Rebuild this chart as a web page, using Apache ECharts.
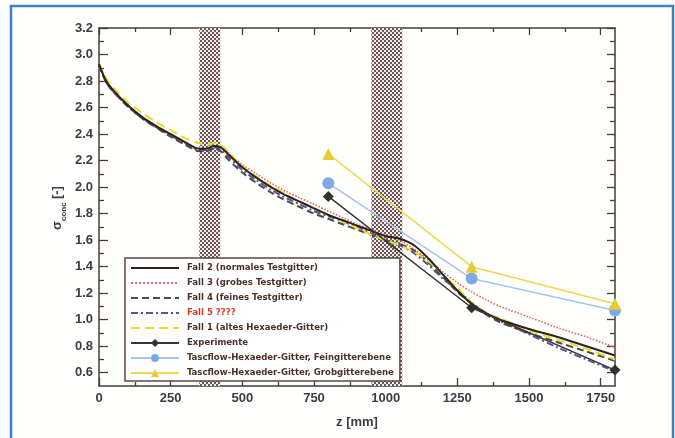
<!DOCTYPE html>
<html>
<head>
<meta charset="utf-8">
<script src="https://cdn.jsdelivr.net/npm/echarts@6/dist/echarts.min.js"></script>
<style>
  html, body { margin: 0; padding: 0; background: #fff; }
  #chart { width: 675px; height: 438px; }
</style>
</head>
<body>
<div id="chart"></div>
<script>
// z positions of the CFD curves [mm]
const zCurve = [0, 25, 50, 100, 150, 200, 250, 300, 350, 375, 400, 425, 450, 500, 550, 600, 650, 700, 750,
  800, 850, 900, 950, 1000, 1050, 1100, 1150, 1200, 1250, 1300, 1350, 1400, 1500, 1600, 1700, 1800];

// Fall 2 (normales Testgitter)
const fall2 = [2.93, 2.80, 2.73, 2.62, 2.53, 2.46, 2.40, 2.34, 2.29, 2.29, 2.31, 2.30, 2.25, 2.15, 2.07, 2.00, 1.94, 1.89, 1.84,
  1.79, 1.75, 1.71, 1.67, 1.63, 1.61, 1.56, 1.46, 1.34, 1.22, 1.12, 1.05, 1.00, 0.93, 0.87, 0.80, 0.73];
// Fall 3 (grobes Testgitter)
const fall3 = [2.92, 2.79, 2.72, 2.61, 2.52, 2.45, 2.39, 2.33, 2.28, 2.28, 2.30, 2.30, 2.26, 2.17, 2.10, 2.03, 1.97, 1.92, 1.87,
  1.82, 1.77, 1.72, 1.68, 1.64, 1.60, 1.53, 1.45, 1.36, 1.28, 1.21, 1.15, 1.10, 1.02, 0.94, 0.87, 0.79];
// Fall 4 (feines Testgitter)
const fall4 = [2.92, 2.79, 2.72, 2.61, 2.52, 2.45, 2.38, 2.32, 2.27, 2.27, 2.29, 2.27, 2.21, 2.11, 2.03, 1.96, 1.90, 1.85, 1.80,
  1.76, 1.72, 1.68, 1.64, 1.60, 1.57, 1.52, 1.43, 1.32, 1.21, 1.12, 1.04, 0.98, 0.90, 0.83, 0.76, 0.69];
// Fall 5
const fall5 = [2.92, 2.79, 2.72, 2.61, 2.52, 2.45, 2.39, 2.33, 2.28, 2.28, 2.30, 2.28, 2.23, 2.13, 2.05, 1.98, 1.92, 1.87, 1.82,
  1.78, 1.74, 1.70, 1.65, 1.60, 1.56, 1.50, 1.41, 1.31, 1.22, 1.13, 1.05, 0.99, 0.89, 0.79, 0.70, 0.61];
// Fall 1 (altes Hexaeder-Gitter)
const fall1 = [2.93, 2.82, 2.75, 2.64, 2.56, 2.49, 2.43, 2.37, 2.33, 2.32, 2.33, 2.32, 2.27, 2.16, 2.08, 2.01, 1.95, 1.89, 1.84,
  1.79, 1.74, 1.69, 1.64, 1.60, 1.56, 1.51, 1.44, 1.34, 1.24, 1.13, 1.05, 1.01, 0.92, 0.85, 0.78, 0.70];

// measurement planes
const zPlanes = [800, 1300, 1800];
const experimente = [1.93, 1.09, 0.62];
const feingitter = [2.03, 1.31, 1.07];
const grobgitter = [2.25, 1.40, 1.12];

// hatched regions [from, to] in mm
const bands = [[350, 423], [950, 1058]];

// tick labels / ticks
const xLabels = [0, 250, 500, 750, 1000, 1250, 1500, 1750];
const xMinor = [125, 375, 625, 875, 1125, 1375, 1625];
const yLabels = [0.6, 0.8, 1.0, 1.2, 1.4, 1.6, 1.8, 2.0, 2.2, 2.4, 2.6, 2.8, 3.0, 3.2];
const yMinor = [0.7, 0.9, 1.1, 1.3, 1.5, 1.7, 1.9, 2.1, 2.3, 2.5, 2.7, 2.9, 3.1];

const names = [
  'Fall 2 (normales Testgitter)',
  'Fall 3 (grobes Testgitter)',
  'Fall 4 (feines Testgitter)',
  'Fall 5 ????',
  'Fall 1 (altes Hexaeder-Gitter)',
  'Experimente',
  'Tascflow-Hexaeder-Gitter, Feingitterebene',
  'Tascflow-Hexaeder-Gitter, Grobgitterebene'
];

function zip(xs, ys) {
  return xs.map(function (x, i) { return [x, ys[i]]; });
}

// checker pattern for the hatched bands
function makeChecker() {
  const c = document.createElement('canvas');
  c.width = 4; c.height = 4;
  const ctx = c.getContext('2d');
  ctx.fillStyle = '#f2ecec';
  ctx.fillRect(0, 0, 4, 4);
  ctx.fillStyle = '#6a5656';
  ctx.fillRect(0, 0, 2, 2);
  ctx.fillRect(2, 2, 2, 2);
  return c;
}

const axisCol = '#4a3c34';
const labelFont = { color: '#3c3c3c', fontSize: 13, fontWeight: 'bold', fontFamily: 'Liberation Sans, Arial, sans-serif' };
const legendFont = '"Liberation Sans Narrow", "DejaVu Sans Condensed", sans-serif';

function xAxisDef(pos, ticks, len, showLabels, showLine) {
  return {
    type: 'value', position: pos, min: 0, max: 1800,
    axisLine: { show: showLine, onZero: false, lineStyle: { color: axisCol, width: 1.5 } },
    axisTick: { show: true, inside: true, length: len, customValues: ticks, lineStyle: { color: axisCol, width: 1.3 } },
    axisLabel: showLabels ? Object.assign({ margin: 6, customValues: xLabels, formatter: function (v) { return String(v); } }, labelFont) : { show: false },
    splitLine: { show: false }
  };
}
function yAxisDef(pos, ticks, len, showLabels, showLine) {
  return {
    type: 'value', position: pos, min: 0.5, max: 3.2,
    axisLine: { show: showLine, onZero: false, lineStyle: { color: axisCol, width: 1.5 } },
    axisTick: { show: true, inside: true, length: len, customValues: ticks, lineStyle: { color: axisCol, width: 1.3 } },
    axisLabel: showLabels ? Object.assign({ margin: 6, customValues: yLabels, formatter: function (v) { return v.toFixed(1); } }, labelFont) : { show: false },
    splitLine: { show: false }
  };
}

function curve(name, data, color, type, width, z) {
  return {
    name: name, type: 'line', data: zip(zCurve, data), xAxisIndex: 0, yAxisIndex: 0,
    showSymbol: false, symbol: 'none', smooth: 0.3, z: z || 3,
    lineStyle: { color: color, type: type, width: width },
    itemStyle: { color: color }
  };
}
function planeSeries(name, data, color, lineColor, symbol, size) {
  return {
    name: name, type: 'line', data: zip(zPlanes, data), xAxisIndex: 0, yAxisIndex: 0,
    symbol: symbol, symbolSize: size, z: 5,
    lineStyle: { color: lineColor, width: 1.5 },
    itemStyle: { color: color }
  };
}

const chart = echarts.init(document.getElementById('chart'), null, { renderer: 'canvas' });

chart.setOption({
  backgroundColor: '#ffffff',
  animation: false,
  grid: { left: 99, right: 60, top: 28, bottom: 52 },
  xAxis: [
    xAxisDef('bottom', xLabels, 8, true, true),
    xAxisDef('top', xLabels, 7, false, true),
    xAxisDef('bottom', xMinor, 4, false, false),
    xAxisDef('top', xMinor, 4, false, false)
  ],
  yAxis: [
    yAxisDef('left', yLabels, 9, true, true),
    yAxisDef('right', yLabels, 8, false, true),
    yAxisDef('left', yMinor, 5, false, false),
    yAxisDef('right', yMinor, 5, false, false)
  ],
  legend: {
    orient: 'vertical', left: 125, top: 258,
    data: names.map(function (n, i) {
      return i < 5 ? { name: n, itemStyle: { opacity: 0 } } : { name: n };
    }),
    backgroundColor: '#ffffff', borderColor: '#5a4a40', borderWidth: 1.5,
    padding: [5, 6, 3, 5],
    itemWidth: 48, itemHeight: 10, itemGap: 5,
    textStyle: {
      fontFamily: legendFont, fontWeight: 'bold', fontSize: 9.5, color: '#4a3226',
      padding: [0, 0, 0, 3],
      rich: { red: { fontFamily: legendFont, fontWeight: 'bold', fontSize: 9.5, color: '#e03a20' } }
    },
    formatter: function (n) { return n === 'Fall 5 ????' ? '{red|' + n + '}' : n; }
  },
  graphic: [
    { type: 'rect', z: -10, silent: true, shape: { x: 11, y: 6, width: 662, height: 450 },
      style: { fill: '#fffffd', stroke: '#3d7fcc', lineWidth: 2.5 } },
    { type: 'text', x: 57, y: 208, rotation: Math.PI / 2, silent: true,
      style: {
        text: '{s|σ}{c|conc} {s|[-]}', align: 'center', verticalAlign: 'middle',
        rich: {
          s: { fontSize: 13, fontWeight: 'bold', fill: '#3c3c3c', fontFamily: 'Liberation Sans, sans-serif', verticalAlign: 'bottom' },
          c: { fontSize: 8, fontWeight: 'bold', fill: '#3c3c3c', fontFamily: 'Liberation Sans, sans-serif', verticalAlign: 'bottom', padding: [0, 0, -4, 0] }
        }
      } },
    { type: 'text', x: 357, y: 422, silent: true,
      style: { text: 'z [mm]', align: 'center', verticalAlign: 'middle', fontSize: 13, fontWeight: 'bold', fill: '#3c3c3c', fontFamily: 'Liberation Sans, sans-serif' } }
  ],
  series: [
    {
      name: 'bands', type: 'line', data: [], z: 1, xAxisIndex: 0, yAxisIndex: 0,
      markArea: {
        silent: true,
        itemStyle: { color: { image: makeChecker(), repeat: 'repeat' }, opacity: 1 },
        data: bands.map(function (b) { return [{ xAxis: b[0], yAxis: 0.5 }, { xAxis: b[1], yAxis: 3.2 }]; })
      }
    },
    curve(names[1], fall3, '#e06a6a', 'dotted', 1.6, 3),
    curve(names[3], fall5, '#5b4f9e', [7, 3, 2, 3], 2, 3),
    curve(names[2], fall4, '#4e4a44', [7, 4], 2, 3),
    curve(names[4], fall1, '#e6dc2c', [9, 5], 2, 3),
    curve(names[0], fall2, '#2c221e', 'solid', 2, 4),
    planeSeries(names[5], experimente, '#333030', '#3a3432', 'diamond', 11),
    planeSeries(names[6], feingitter, '#7fa9e2', '#a6c4ec', 'circle', 12),
    planeSeries(names[7], grobgitter, '#e4cc34', '#ecd850', 'triangle', 12)
  ]
});
</script>
</body>
</html>
